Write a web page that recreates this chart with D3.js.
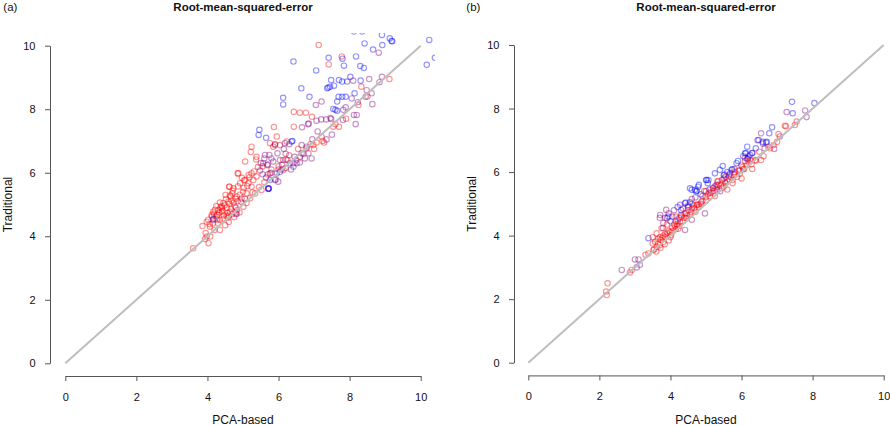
<!DOCTYPE html>
<html>
<head>
<meta charset="utf-8">
<script src="https://cdn.jsdelivr.net/npm/d3@7"></script>
<style>
  body { margin: 0; background: #fff; }
  svg { display: block; font-family: "Liberation Sans", Arial, sans-serif; }
</style>
</head>
<body>
<svg width="890" height="426"></svg>
<script>
// axis ticks shared by both panels
const ticks = [0, 2, 4, 6, 8, 10]

// panel (a): [PCA-based, Traditional]
const redA = [
  [7.13,10.02],[7.78,9.66],[7.41,9.41],[9.12,8.95],[8.33,8.71],[8.25,8.13],[7.54,7.45],[7.7,7.45],[7.6,7.53],
  [7.21,7.13],[7.24,7.0],[6.98,6.87],[6.79,6.77],[6.43,7.92],[6.6,7.89],[6.77,7.89],[6.94,7.76],[6.43,7.45],
  [5.87,7.44],[6.13,6.4],[6.09,6.11],[6.23,6.98],[5.95,7.14],[5.85,6.82],[5.76,6.93],[5.24,6.82],[5.22,6.65],
  [5.06,6.35],[5.37,6.42],[5.38,6.5],[4.87,5.98],[4.85,5.98],[4.61,5.56],[4.62,5.56],[5.9,6.87],[6.04,6.87],
  [6.9,6.9],[7.07,6.95],[7.28,6.95],[7.0,6.75],[6.14,6.09],[6.21,6.42],[5.52,5.46],[5.38,5.88],[5.24,5.98],
  [5.29,5.77],[5.15,5.67],[5.06,5.77],[5.24,5.56],[5.34,5.35],[5.1,5.35],[4.92,5.67],[4.73,5.51],[4.51,5.3],
  [4.65,5.25],[4.82,5.25],[4.94,5.09],[5.01,4.93],[4.77,4.93],[4.63,4.77],[4.54,4.62],[4.4,4.77],[4.42,4.8],
  [4.31,4.83],[4.21,4.83],[4.26,4.62],[4.35,4.51],[4.12,4.67],[4.45,5.04],[4.59,5.09],[4.35,5.06],[4.55,4.9],
  [3.98,4.46],[3.86,4.32],[4.35,4.2],[4.07,4.3],[3.93,3.91],[4.03,3.78],[3.98,3.99],[4.08,3.99],[3.6,3.62],
  [4.6,4.65],[4.7,4.7],[4.9,4.75],[5.1,5.05],[5.2,5.2],[5.45,5.55],[5.6,5.7],[5.7,5.95],[5.55,6.2],[5.8,6.1],
  [6.3,6.55],[6.55,6.75],[6.5,6.4],[6.7,6.6],[6.0,6.2],[4.3,4.4],[4.15,4.4],[4.5,4.35],[4.45,4.55],[4.75,4.6],
  [4.2,4.2],[3.95,4.1],[4.85,5.1],[5.0,5.4],[4.7,5.35],[4.4,4.95],[4.25,4.95],[4.6,4.45],[8.5,8.4],[7.9,7.7],
  [4.12,4.62],[4.18,4.71],[4.33,4.74],[4.41,4.88],[4.48,4.97],[4.62,5.02],[4.68,5.12],[4.79,5.18],[4.91,5.31],
  [5.02,5.52],[5.12,5.58],[4.46,4.66],[4.57,4.73],[4.66,4.87],[4.74,5.06],[4.27,4.53],[4.16,4.77],[4.37,4.91],
  [4.02,4.52],[4.06,4.38],[4.52,5.17],[4.63,5.28],[4.71,5.43],[4.86,5.57],[5.03,5.76],[5.18,5.86],[5.31,6.04],
  [5.42,6.18],[5.16,5.93],[4.97,5.84],[4.28,4.68],[4.58,4.58],[4.83,4.82],[5.05,5.18],[5.27,5.38]
]
const purpleA = [
  [8.82,9.78],[8.1,8.9],[8.55,8.95],[8.91,9.02],[8.84,8.85],[8.48,8.6],[8.45,8.39],[8.62,8.5],[8.06,8.34],
  [8.23,8.22],[8.64,8.16],[7.21,8.24],[7.05,8.13],[7.89,8.06],[7.82,7.98],[7.07,7.64],[7.2,7.68],[7.34,7.68],
  [7.48,7.69],[7.46,7.72],[8.12,7.82],[8.17,7.53],[7.81,7.66],[6.83,7.53],[6.85,7.55],[6.66,7.43],[8.2,7.82],
  [6.18,6.93],[6.65,6.87],[6.79,6.82],[6.3,6.9],[5.62,6.56],[5.74,6.56],[5.68,6.24],[5.7,6.26],[5.48,6.07],
  [5.57,6.3],[5.97,6.61],[6.04,6.4],[6.32,6.3],[6.42,6.19],[6.51,6.3],[6.6,6.32],[6.74,6.45],[6.93,6.45],
  [6.84,6.61],[6.65,6.61],[5.95,5.98],[5.9,5.77],[5.92,5.79],[5.99,5.72],[5.71,5.51],[5.73,5.5],[5.76,5.98],
  [4.96,5.19],[4.8,4.72],[4.82,4.7],[4.16,4.51],[6.2,6.15],[6.1,6.25],[7.5,7.2],[7.35,7.05],[6.95,7.05],
  [7.1,7.3],[5.6,6.45],[5.85,6.35],[5.5,6.3],[5.9,6.9],[6.2,6.6],[4.8,4.9],[5.8,6.0],[6.0,6.1],[6.25,6.4],
  [6.45,6.5],[5.65,5.85],[5.55,5.95],[6.35,6.1],[6.6,6.5],[5.8,6.45],[6.15,6.75]
]
const blueA = [
  [8.12,10.45],[8.35,10.45],[8.91,10.34],[9.13,10.23],[9.18,10.15],[9.2,10.14],[10.24,10.18],[10.17,9.4],
  [10.4,9.62],[8.42,10.07],[8.66,9.88],[8.92,10.02],[7.41,9.62],[7.8,9.59],[7.84,9.37],[6.42,9.5],[8.18,9.66],
  [8.3,9.36],[8.4,9.3],[7.06,9.22],[7.48,8.92],[7.7,8.92],[7.79,8.87],[7.93,8.87],[8.02,9.02],[8.31,8.9],
  [7.37,8.66],[7.45,8.71],[7.4,8.68],[7.56,8.74],[6.64,8.66],[8.14,8.5],[6.87,8.39],[6.13,8.36],[6.13,8.15],
  [7.69,8.39],[7.79,8.39],[7.89,8.39],[7.65,8.24],[7.54,8.01],[7.65,7.95],[7.6,7.98],[5.46,7.35],[5.44,7.19],
  [5.65,7.1],[5.76,5.77],[5.71,5.49],[5.72,5.5],[6.37,6.98],[6.39,7.0],[6.42,6.3],[6.04,6.03],[4.17,4.55]
]

// panel (b)
const redB = [
  [7.55,7.59],[7.5,7.48],[7.22,7.46],[7.25,7.44],[7.04,7.2],[6.75,6.8],[6.38,6.38],[6.4,6.36],[6.5,6.64],
  [6.55,6.38],[6.62,6.5],[6.05,6.09],[6.07,6.1],[6.28,6.25],[6.1,6.35],[5.95,5.95],[5.88,5.85],[6.0,5.8],
  [5.75,5.65],[5.6,5.7],[5.5,5.55],[5.35,5.6],[5.32,5.7],[5.34,5.72],[5.45,5.5],[5.15,5.35],[5.2,5.5],
  [4.95,5.4],[5.05,5.3],[4.74,4.97],[4.76,4.98],[4.9,5.1],[5.0,5.1],[4.6,4.85],[4.7,4.75],[4.5,4.8],
  [4.4,4.7],[4.3,4.6],[4.45,4.55],[4.2,4.5],[4.1,4.35],[4.15,4.2],[4.05,4.25],[3.95,4.15],[3.9,4.35],
  [3.85,4.05],[3.75,4.23],[3.8,4.0],[3.7,3.95],[3.61,4.07],[3.65,3.9],[3.57,3.81],[3.61,3.65],[3.52,3.55],
  [3.54,3.57],[3.6,3.5],[3.5,3.75],[3.38,3.44],[3.3,3.4],[2.91,2.92],[2.86,2.84],[2.23,2.5],[2.19,2.24],
  [2.21,2.13],[3.95,3.85],[4.0,3.95],[3.7,3.7],[3.8,3.8],[4.25,4.3],[4.35,4.45],[4.55,4.65],[4.8,4.9],
  [5.25,5.25],[5.6,5.45],[5.8,6.0],[6.3,6.1],[6.8,6.75],[6.9,6.85],[7.0,6.95],[5.55,5.85],[4.6,5.0],
  [4.15,4.6],[5.75,5.75],[6.2,6.3],[3.5,3.95],
  [3.66,3.74],[3.73,3.87],[3.77,3.93],[3.86,3.96],[3.91,4.07],[3.99,4.11],[4.06,4.14],[4.13,4.29],[4.19,4.36],
  [4.27,4.43],[4.39,4.56],[4.47,4.62],[4.59,4.74],[4.67,4.86],[4.79,4.96],[4.87,5.06],[4.99,5.21],[5.11,5.24],
  [5.21,5.41],[5.29,5.52],[5.43,5.61],[5.53,5.69],[5.66,5.77],[5.79,5.91],[5.91,6.04],[6.03,6.16],[6.14,6.21],
  [6.26,6.36],[3.72,3.62],[3.84,3.73],[4.02,4.02],[4.22,4.22]
]
const purpleB = [
  [7.27,7.89],[7.79,7.94],[7.83,7.73],[7.08,7.12],[6.55,7.22],[6.92,6.73],[6.45,7.0],[6.3,6.6],[6.65,6.75],
  [6.0,6.2],[5.95,6.05],[5.8,6.1],[5.55,5.65],[5.45,5.75],[5.3,5.45],[5.4,5.4],[5.2,5.5],[4.97,4.7],
  [4.27,4.97],[4.5,4.95],[3.88,4.81],[3.71,4.65],[3.9,4.55],[4.05,4.6],[4.41,4.18],[4.2,4.3],[4.6,4.5],
  [3.1,3.25],[3.0,3.25],[3.14,3.08],[2.63,2.92],[3.05,3.0],[4.7,5.2],[5.0,5.4],[4.3,4.65],[4.6,5.15],
  [5.65,5.9],[6.1,6.45],[4.85,5.0],[3.8,4.4],[4.1,4.8],[3.85,4.56],[3.7,4.56],[3.79,4.24],
  [4.35,4.85],[4.45,4.7],[4.65,4.95],[4.9,5.25],[5.1,5.35],[5.25,5.55],[5.5,5.8],[5.7,5.85],[6.2,6.5],
  [6.6,6.9],[3.95,4.7],[4.15,4.45]
]
const blueB = [
  [7.42,8.21],[8.05,8.17],[7.44,7.85],[6.86,7.41],[6.78,7.22],[6.48,7.01],[6.69,6.93],[6.71,6.95],[6.6,6.95],
  [6.16,6.8],[6.1,6.59],[6.12,6.6],[6.24,6.54],[6.05,6.5],[6.16,6.41],[6.18,6.43],[5.9,6.35],[5.86,6.28],
  [5.72,6.07],[5.74,6.09],[5.68,5.96],[5.47,6.19],[5.39,6.07],[5.25,5.96],[5.5,5.9],[5.52,5.92],[5.07,5.75],
  [5.0,5.75],[4.78,5.54],[4.72,5.39],[4.74,5.41],[4.6,5.44],[5.1,5.45],[5.02,5.75],[5.05,5.65],[4.69,5.44],
  [4.55,5.49],[4.8,5.6],[4.41,5.02],[4.43,5.04],[3.94,4.6],[3.38,3.92],[4.3,4.8],[4.5,4.9],[4.2,4.9],
  [4.85,5.3],[5.3,5.6],[5.6,6.0],[6.3,6.6],[6.4,6.75],[4.55,5.05],[4.0,4.45],[4.25,4.55]
]

const svg = d3.select("svg")
svg.append("rect").attr("width", 890).attr("height", 426).attr("fill", "#fff")

function draw_panel(tag, x_range, y_range, y_axis_x, series) {
    const x = d3.scaleLinear().domain([0, 10]).range(x_range)
    const y = d3.scaleLinear().domain([0, 10]).range(y_range)
    const x_mid = (x_range[0] + x_range[1]) / 2
    const g = svg.append("g")

    // plot region clip, R-style 4% padding
    const clip_id = "clip-" + tag
    g.append("clipPath").attr("id", clip_id)
        .append("rect")
        .attr("x", x(-0.4)).attr("y", y(10.4))
        .attr("width", x(10.4) - x(-0.4))
        .attr("height", y(-0.4) - y(10.4))

    const pts = g.append("g").attr("clip-path", "url(#" + clip_id + ")")
    series.forEach(function(s) {
        pts.selectAll(null)
            .data(s.data)
            .enter()
            .append("circle")
            .attr("cx", d => x(d[0]))
            .attr("cy", d => y(d[1]))
            .attr("r", 2.7)
            .attr("fill", "none")
            .attr("stroke", s.color)
            .attr("stroke-width", 1.15)
    })

    // identity line
    pts.append("line")
        .attr("x1", x(0)).attr("y1", y(0))
        .attr("x2", x(10)).attr("y2", y(10))
        .attr("stroke", "#bebebe")
        .attr("stroke-width", 2)

    // axes
    const x_axis = g.append("g")
        .attr("transform", "translate(0," + y(-0.4) + ")")
        .call(d3.axisBottom(x).tickValues(ticks).tickSize(5).tickSizeOuter(0).tickPadding(12))
    const y_axis = g.append("g")
        .attr("transform", "translate(" + y_axis_x + ",0)")
        .call(d3.axisLeft(y).tickValues(ticks).tickSize(5).tickSizeOuter(0).tickPadding(9.5))
    ;[x_axis, y_axis].forEach(function(a) {
        a.select(".domain").attr("stroke", "#555")
        a.selectAll(".tick line").attr("stroke", "#555")
        a.selectAll(".tick text")
            .attr("font-family", "Liberation Sans, Arial, sans-serif")
            .attr("font-size", "11px")
            .attr("fill", "#111")
    })

    // titles and labels
    g.append("text")
        .attr("x", x_mid).attr("y", 11)
        .attr("text-anchor", "middle")
        .attr("font-size", "11.5px")
        .attr("font-weight", "bold")
        .attr("fill", "#111")
        .text("Root-mean-squared-error")
    g.append("text")
        .attr("x", x_mid).attr("y", 424)
        .attr("text-anchor", "middle")
        .attr("font-size", "12px")
        .attr("fill", "#111")
        .text("PCA-based")
    g.append("text")
        .attr("transform", "translate(" + (y_axis_x - 38) + "," + ((y_range[0] + y_range[1]) / 2) + ") rotate(-90)")
        .attr("text-anchor", "middle")
        .attr("font-size", "12px")
        .attr("fill", "#111")
        .text("Traditional")
    g.append("text")
        .attr("x", x_range[0] - 62).attr("y", 11)
        .attr("font-size", "11.5px")
        .attr("fill", "#111")
        .text("(" + tag + ")")
}

const red = "rgba(255,0,0,0.42)"
const blue = "rgba(0,0,255,0.42)"
const purple = "rgba(128,0,128,0.42)"

draw_panel("a", [65.3, 420.7], [363.3, 45.7], 50, [
    {data: redA, color: red}, {data: purpleA, color: purple}, {data: blueA, color: blue}
])
draw_panel("b", [528.3, 883.7], [362.7, 45], 514, [
    {data: purpleB, color: purple}, {data: blueB, color: blue}, {data: redB, color: red}
])
</script>
</body>
</html>
